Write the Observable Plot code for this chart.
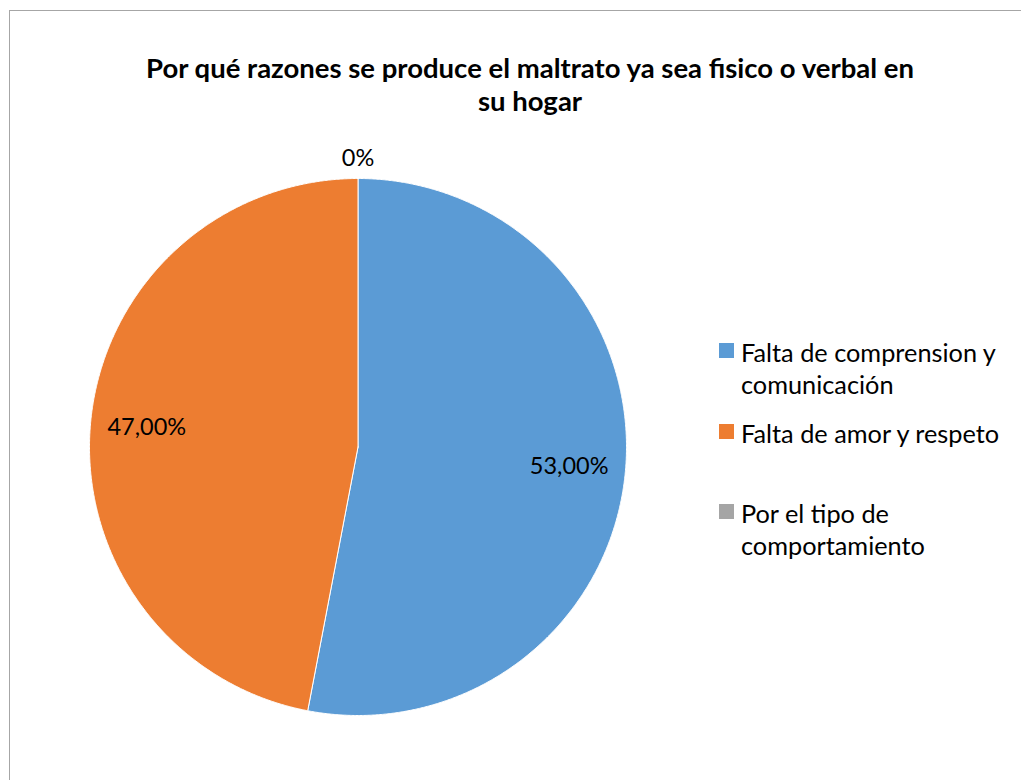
<!DOCTYPE html>
<html>
<head>
<meta charset="utf-8">
<script src="https://cdn.jsdelivr.net/npm/d3@7"></script>
<script src="https://cdn.jsdelivr.net/npm/@observablehq/plot@0.6"></script>
<style>
  html, body { margin: 0; padding: 0; background: #fff; }
  body { width: 1021px; height: 780px; position: relative; overflow: hidden; font-family: Lato, "Open Sans", sans-serif; }
  #frame { position: absolute; left: 9px; top: 10px; width: 1100px; height: 900px; border: 1px solid #a6a6a6; box-sizing: border-box; }
  #title { position: absolute; left: 80px; width: 900px; top: 51px; text-align: center; font-weight: bold; font-size: 27.5px; line-height: 33px; color: #000; }
  #chart { position: absolute; left: 0; top: 0; }
  .leg { position: absolute; left: 741px; font-size: 25.3px; line-height: 32px; color: #000; white-space: nowrap; }
  .sw { position: absolute; left: -22px; top: 7px; width: 15px; height: 15px; }
</style>
</head>
<body>
<div id="frame"></div>
<div id="title">Por qué razones se produce el maltrato ya sea fisico o verbal en<br>su hogar</div>
<div id="chart"></div>
<div id="legend"></div>
<script>
const categories = ["Falta de comprension y comunicación", "Falta de amor y respeto", "Por el tipo de comportamiento"];
const legendLines = [["Falta de comprension y", "comunicación"], ["Falta de amor y respeto"], ["Por el tipo de", "comportamiento"]];
const values = [53, 47, 0];
const labels = ["53,00%", "47,00%", "0%"];
const colors = ["#5B9BD5", "#ED7D31", "#A5A5A5"];

// pie geometry via d3.pie (angles clockwise from top)
const arcs = d3.pie().sort(null).value(d => d)(values);
const slices = [];
arcs.forEach((a, i) => {
  if (a.endAngle - a.startAngle <= 0) return;
  slices.push({cat: categories[i], x: 0, y: 0});
  const n = Math.max(2, Math.ceil((a.endAngle - a.startAngle) / 0.005));
  for (let k = 0; k <= n; k++) {
    const t = a.startAngle + (a.endAngle - a.startAngle) * k / n;
    slices.push({cat: categories[i], x: Math.sin(t), y: Math.cos(t)});
  }
  slices.push({cat: categories[i], x: 0, y: 0});
});
const labelData = arcs.map((a, i) => {
  const m = (a.startAngle + a.endAngle) / 2;
  const rr = values[i] === 0 ? 1.075 : 0.79;
  return {x: rr * Math.sin(m), y: rr * Math.cos(m), text: labels[i]};
});

const cx = 357.5, cy = 446.5, r = 268.5;
const chart = Plot.plot({
  width: 1021,
  height: 780,
  margin: 0,
  x: {domain: [-1, 1], range: [cx - r, cx + r], axis: null},
  y: {domain: [-1, 1], range: [cy + r, cy - r], axis: null},
  color: {domain: categories, range: colors},
  style: {background: "transparent", fontFamily: "Lato, 'Open Sans', sans-serif"},
  marks: [
    Plot.line(slices, {x: "x", y: "y", z: "cat", fill: "cat", stroke: "#fff", strokeWidth: 1, curve: "linear"}),
    Plot.text(labelData, {x: "x", y: "y", text: "text", fontSize: 23.5, fill: "#000"})
  ]
});
document.getElementById("chart").appendChild(chart);

const legendTops = [336, 417, 497];
const legend = document.getElementById("legend");
legendLines.forEach((lines, i) => {
  const d = document.createElement("div");
  d.className = "leg";
  d.style.top = legendTops[i] + "px";
  const sw = document.createElement("div");
  sw.className = "sw";
  sw.style.background = colors[i];
  d.appendChild(sw);
  d.appendChild(document.createTextNode(lines[0]));
  for (let j = 1; j < lines.length; j++) {
    d.appendChild(document.createElement("br"));
    d.appendChild(document.createTextNode(lines[j]));
  }
  legend.appendChild(d);
});
</script>
</body>
</html>
